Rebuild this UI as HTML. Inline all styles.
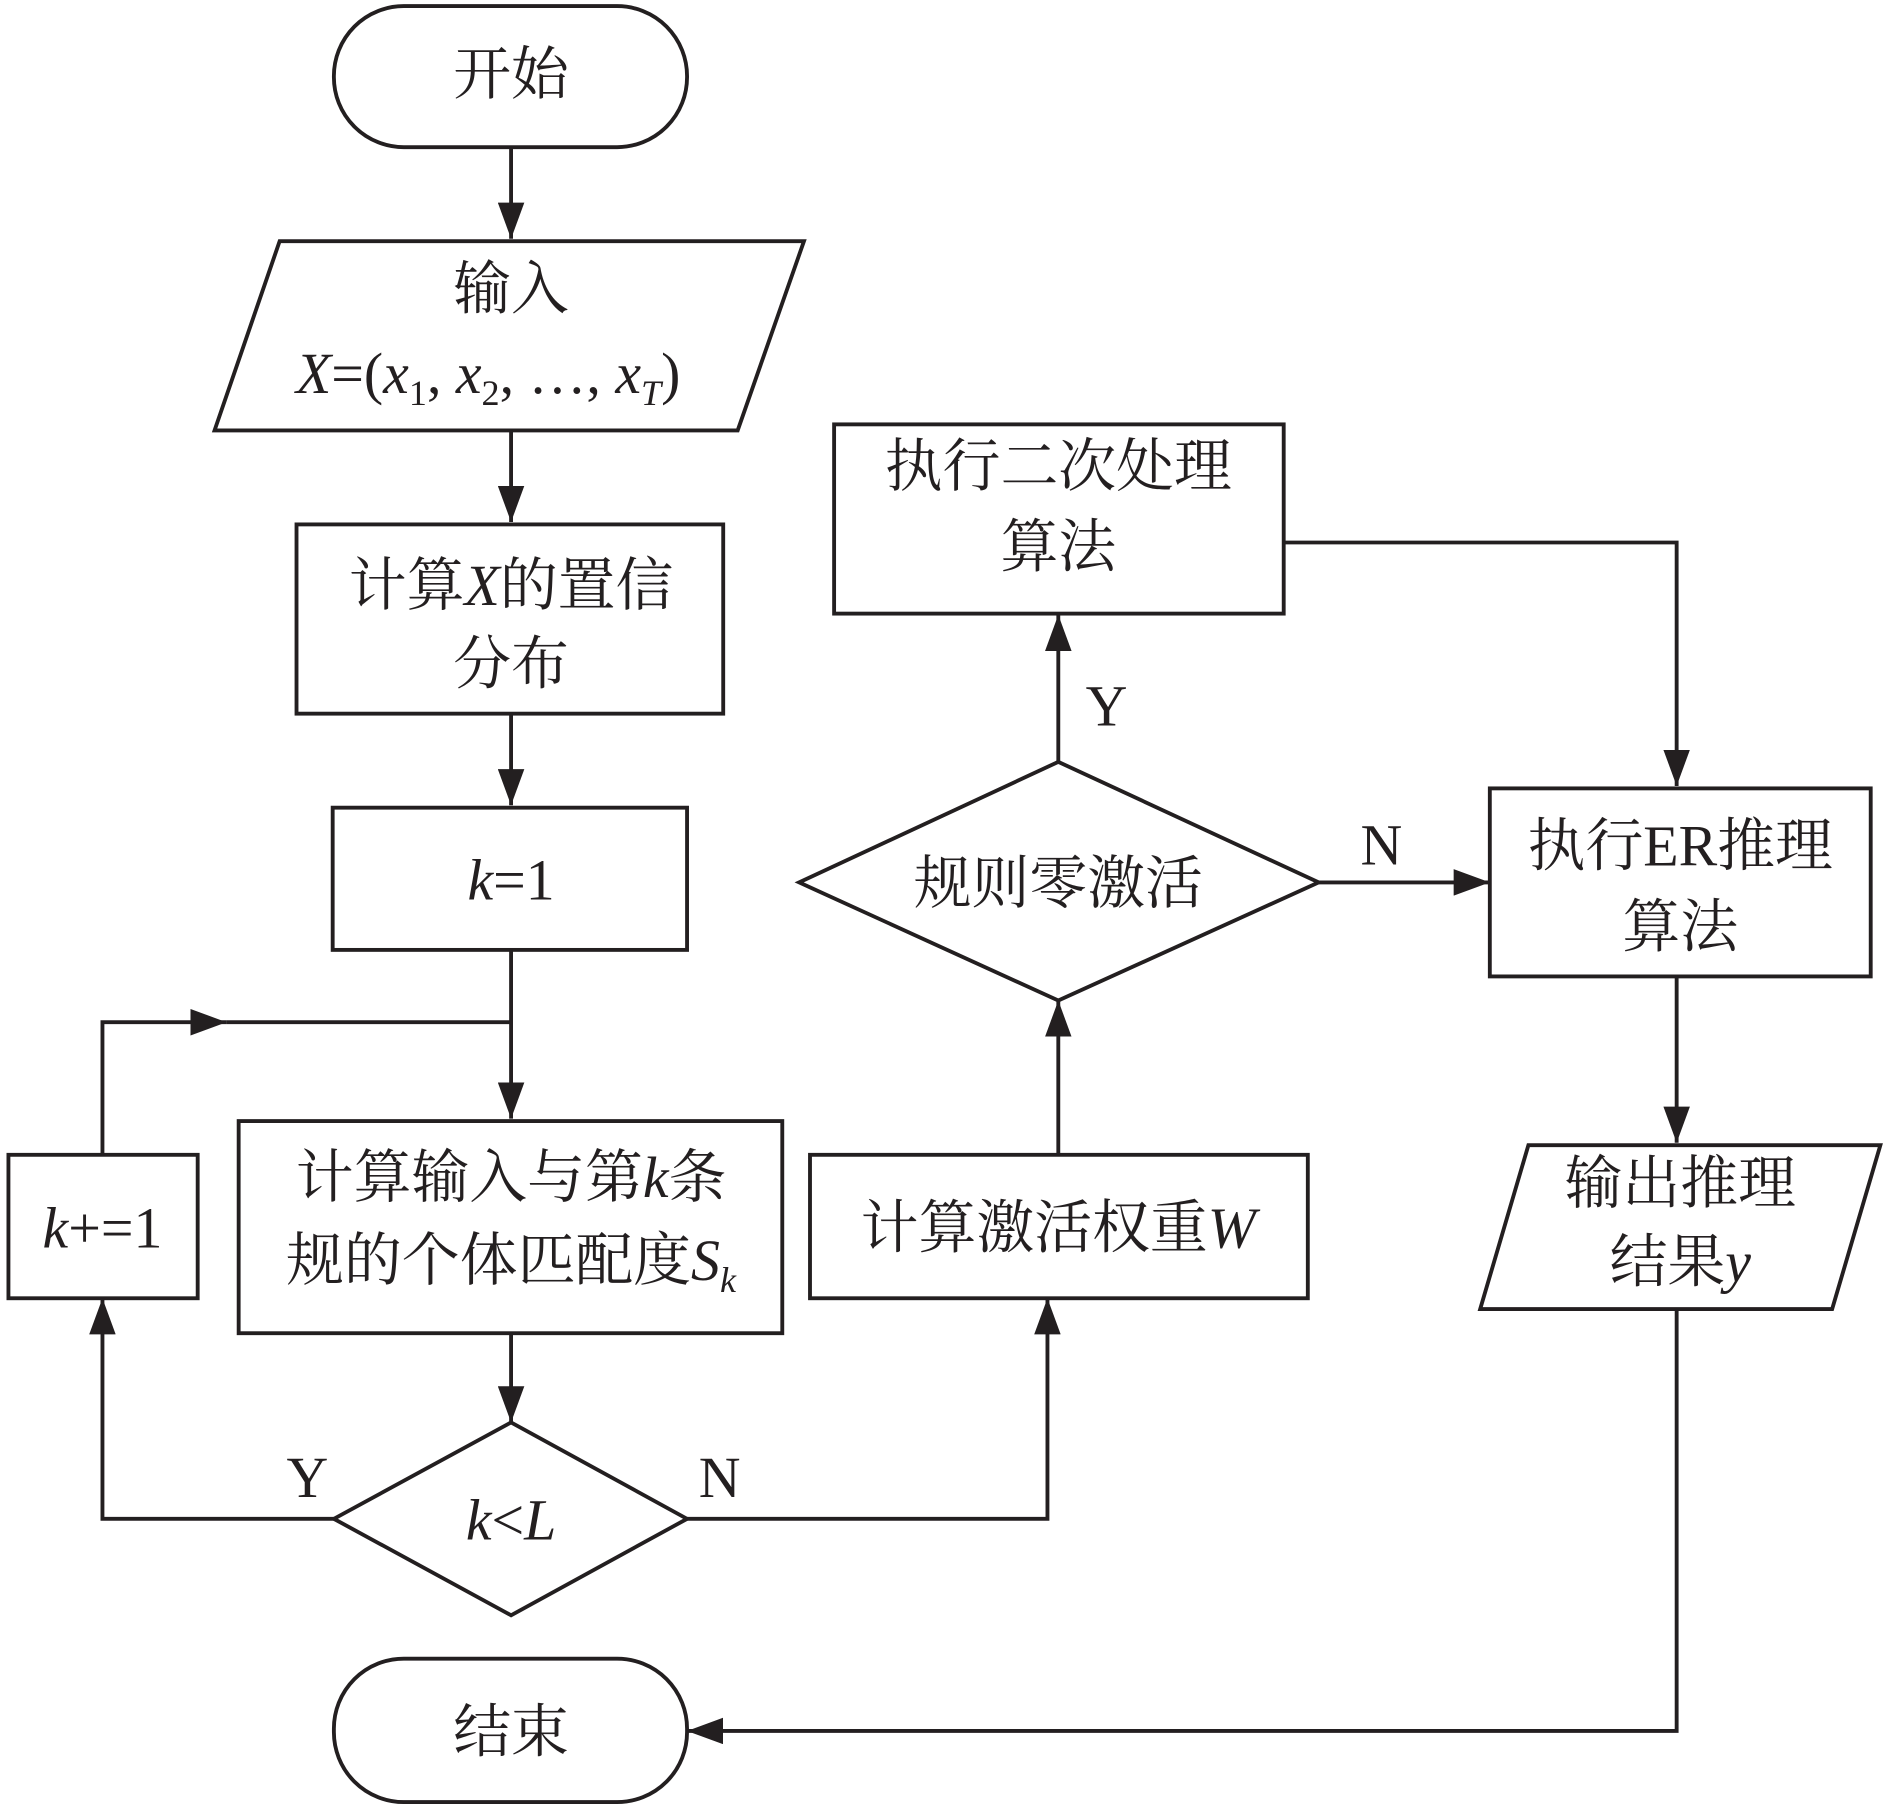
<!DOCTYPE html>
<html><head><meta charset="utf-8"><style>
html,body{margin:0;padding:0;background:#fff}
svg{display:block}
text{font-family:"Liberation Serif","Noto Serif CJK SC",serif;fill:#231f20;font-size:48px}
.i{font-style:italic}
</style></head><body>
<svg width="1890" height="1807" viewBox="0 0 1568 1499" xmlns="http://www.w3.org/2000/svg">
<defs><marker id="a" markerWidth="10" markerHeight="8" refX="10" refY="4" orient="auto" markerUnits="userSpaceOnUse" viewBox="0 0 10 8" preserveAspectRatio="none"><path d="M0,0 L10,4 L0,8 z" fill="#231f20"/></marker>
<marker id="b" markerWidth="30" markerHeight="22" refX="30" refY="11" orient="auto" markerUnits="userSpaceOnUse"><path d="M0,0 L30,11 L0,22 z" fill="#231f20"/></marker></defs>
<g fill="none" stroke="#231f20" stroke-width="3.2">
<rect x="277" y="5" width="293" height="117" rx="58"/>
<polygon points="232,200 667,200 612,357 178,357"/>
<rect x="246" y="435" width="354" height="157"/>
<rect x="276" y="670" width="294" height="118"/>
<rect x="7" y="958" width="157" height="119"/>
<rect x="198" y="930" width="451" height="176"/>
<polygon points="424,1180 570,1260 424,1340 277,1260"/>
<rect x="672" y="958" width="413" height="119"/>
<polygon points="878,632 1094,732 878,830 663,732"/>
<rect x="692" y="352" width="373" height="157"/>
<rect x="1236" y="654" width="316" height="156"/>
<polygon points="1268,950 1560,950 1520,1086 1228,1086"/>
<rect x="277" y="1376" width="293" height="119" rx="58"/>
<g marker-end="url(#b)">
<line x1="424" y1="122" x2="424" y2="198"/>
<line x1="424" y1="357" x2="424" y2="433"/>
<line x1="424" y1="592" x2="424" y2="668"/>
<line x1="424" y1="788" x2="424" y2="928"/>
<polyline points="85,958 85,848 188,848"/>
<line x1="424" y1="1106" x2="424" y2="1180"/>
<polyline points="277,1260 85,1260 85,1077"/>
<polyline points="570,1260 869,1260 869,1077"/>
<line x1="878" y1="958" x2="878" y2="830"/>
<line x1="878" y1="632" x2="878" y2="510"/>
<polyline points="1065,450 1391,450 1391,652"/>
<line x1="1094" y1="732" x2="1236" y2="732"/>
<line x1="1391" y1="810" x2="1391" y2="948"/>
<polyline points="1391,1086 1391,1436 570,1436"/>
</g>
<line x1="188" y1="848" x2="424" y2="848"/>
</g>
<g text-anchor="middle">
<text x="424" y="78">开始</text>
<text x="424" y="256">输入</text>
<text x="405" y="326"><tspan class="i">X</tspan>=(<tspan class="i">x</tspan><tspan font-size="30" dy="10">1</tspan><tspan dy="-10">, </tspan><tspan class="i">x</tspan><tspan font-size="30" dy="10">2</tspan><tspan dy="-10">, …, </tspan><tspan class="i">x</tspan><tspan font-size="30" dy="10" class="i">T</tspan><tspan dy="-10">)</tspan></text>
<text x="424" y="502">计算<tspan class="i">X</tspan>的置信</text>
<text x="424" y="567">分布</text>
<text x="424" y="746"><tspan class="i">k</tspan>=1</text>
<text x="85" y="1035"><tspan class="i">k</tspan>+=1</text>
<text x="424" y="993">计算输入与第<tspan class="i">k</tspan>条</text>
<text x="424" y="1062">规的个体匹配度<tspan class="i">S</tspan><tspan class="i" font-size="30" dy="10">k</tspan></text>
<text x="424" y="1277"><tspan class="i">k</tspan>&lt;<tspan class="i">L</tspan></text>
<text x="255" y="1242">Y</text>
<text x="597" y="1242">N</text>
<text x="878" y="1035">计算激活权重<tspan class="i">W</tspan></text>
<text x="878" y="749">规则零激活</text>
<text x="918" y="602">Y</text>
<text x="1146" y="717">N</text>
<text x="878" y="403">执行二次处理</text>
<text x="878" y="470">算法</text>
<text x="1394" y="718">执行ER推理</text>
<text x="1394" y="785">算法</text>
<text x="1394" y="998">输出推理</text>
<text x="1394" y="1063">结果<tspan class="i">y</tspan></text>
<text x="424" y="1453">结束</text>
</g>
</svg>
</body></html>
